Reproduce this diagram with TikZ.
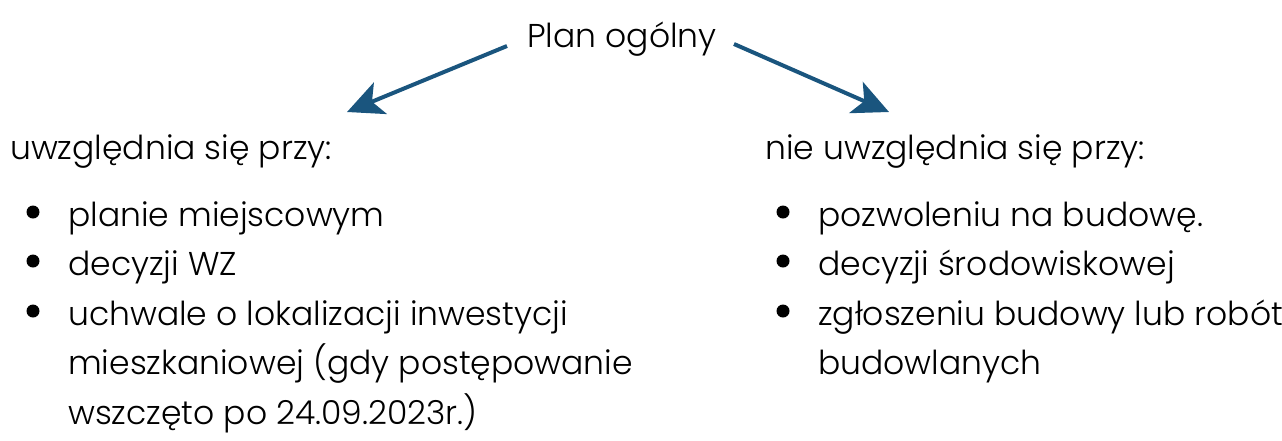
\documentclass[tikz,border=0pt]{standalone}
\usepackage{fontspec}
\setmainfont{Poppins}[UprightFont=* Light]
\usetikzlibrary{arrows.meta}
\definecolor{arrowblue}{RGB}{26,85,126}
\begin{document}
\begin{tikzpicture}[x=1pt,y=-1pt,
  txt/.style={anchor=base west,inner sep=0pt,font=\fontsize{33}{38}\selectfont,text=black},
  bul/.style={circle,fill=black,inner sep=0pt,minimum size=13pt},
  arr/.style={draw=arrowblue,line width=4pt,-{Stealth[length=36pt,width=34pt,inset=9pt]}}]
\useasboundingbox (0,0) rectangle (1282,440);
\node[txt] (title) at (527,47) {Plan ogólny};
\coordinate (ls) at (507,46);
\coordinate (le) at (347,112);
\coordinate (rs) at (734,44);
\coordinate (re) at (889,112);
\draw[arr] (ls) -- (le);
\draw[arr] (rs) -- (re);
% left column
\node[txt] (lh) at (10,159) {uwzględnia się przy:};
\node[bul] (lb1) at (33,212) {};
\node[txt] (l1) at (68,226) {planie miejscowym};
\node[bul] (lb2) at (33,261) {};
\node[txt] (l2) at (68,275) {decyzji WZ};
\node[bul] (lb3) at (33,311) {};
\node[txt] (l3) at (68,325) {uchwale o lokalizacji inwestycji};
\node[txt] (l4) at (68,374) {mieszkaniowej (gdy postępowanie};
\node[txt] (l5) at (68,424) {wszczęto po 24.09.2023r.)};
% right column
\node[txt] (rh) at (765,159) {nie uwzględnia się przy:};
\node[bul] (rb1) at (783,212) {};
\node[txt] (r1) at (818,226) {pozwoleniu na budowę.};
\node[bul] (rb2) at (783,261) {};
\node[txt] (r2) at (818,275) {decyzji środowiskowej};
\node[bul] (rb3) at (783,311) {};
\node[txt] (r3) at (818,325) {zgłoszeniu budowy lub robót};
\node[txt] (r4) at (818,374) {budowlanych};
\end{tikzpicture}
\end{document}
